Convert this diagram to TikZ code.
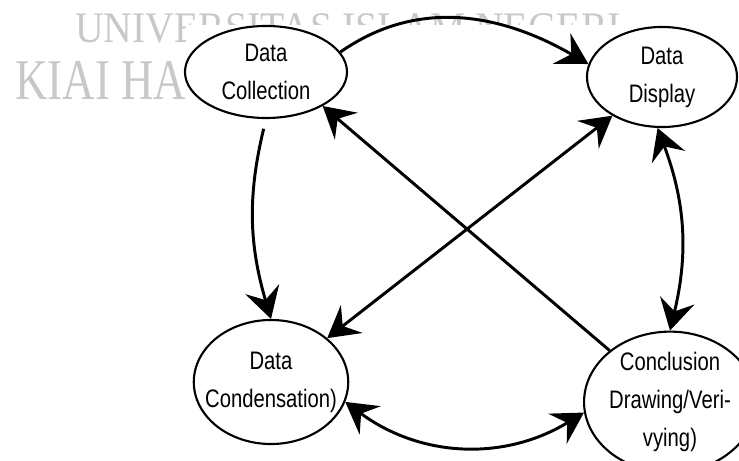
\documentclass[tikz,border=0pt]{standalone}
\usepackage{fontspec}
\usetikzlibrary{shapes.geometric, arrows.meta, positioning}
\newfontfamily\narrowsf[FakeStretch=0.8]{Liberation Sans}
\newfontfamily\stampfont[FakeStretch=0.91]{Liberation Serif}
\newfontfamily\stampnarrow[FakeStretch=0.78]{Liberation Serif}
\definecolor{mstamp}{HTML}{C8C8C8}
\tikzstyle{stage} = [ellipse, draw, line width=1.5pt, fill=white, inner sep=0pt, text centered, align=center, font=\narrowsf\fontsize{18}{27}\selectfont]
\tikzstyle{stamp} = [anchor=base west, inner sep=0pt, text=mstamp]
\tikzstyle{link} = [line width=2.1pt, -{Stealth[length=22pt, width=25pt, inset=8pt]}]
\tikzstyle{twoway} = [line width=2.1pt, {Stealth[length=22pt, width=25pt, inset=8pt]}-{Stealth[length=22pt, width=25pt, inset=8pt]}]

\begin{document}
\begin{tikzpicture}[x=0.025cm, y=0.025cm]
  \useasboundingbox (0,0) rectangle (739,461);
  \clip (0,0) rectangle (739,461);
  % watermark behind the picture
  \node (uni) [stamp, font=\stampfont\fontsize{31}{31}\selectfont] at (75,418) {UNIVERSITAS ISLAM NEGERI};
  \node (kiai) [stamp, font=\stampnarrow\fontsize{41}{41}\selectfont] at (15,361) {KIAI HA};
  \fill [white] (186,0) rectangle (739,436);
  % stages
  \node (coll) [stage, minimum width=4.05cm, minimum height=2.3cm] at (266,389) {Data\\Collection};
  \node (disp) [stage, minimum width=3.75cm, minimum height=2.5cm] at (662,384) {Data\\Display};
  \node (cond) [stage, minimum width=3.85cm, minimum height=3.1cm, inner xsep=-8pt, inner ysep=8pt] at (271,79) {Data\\Condensation)};
  \node (concl) [stage] at (670,59) {Conclusion\\Drawing/Veri-\\vying)};
  % flows
  \draw [link] (coll.15) to[out=35, in=150] (disp.170);
  \draw [link, shorten <=0.25cm] (coll.south) to[bend right=15] (cond.north);
  \draw [link] (concl) -- (coll.-31);
  \draw [twoway] (cond) -- (disp);
  \draw [twoway] (disp.265) to[bend left=17] (concl.north);
  \draw [twoway] (cond.-15) to[bend right=34] (concl.187);
\end{tikzpicture}
\end{document}
